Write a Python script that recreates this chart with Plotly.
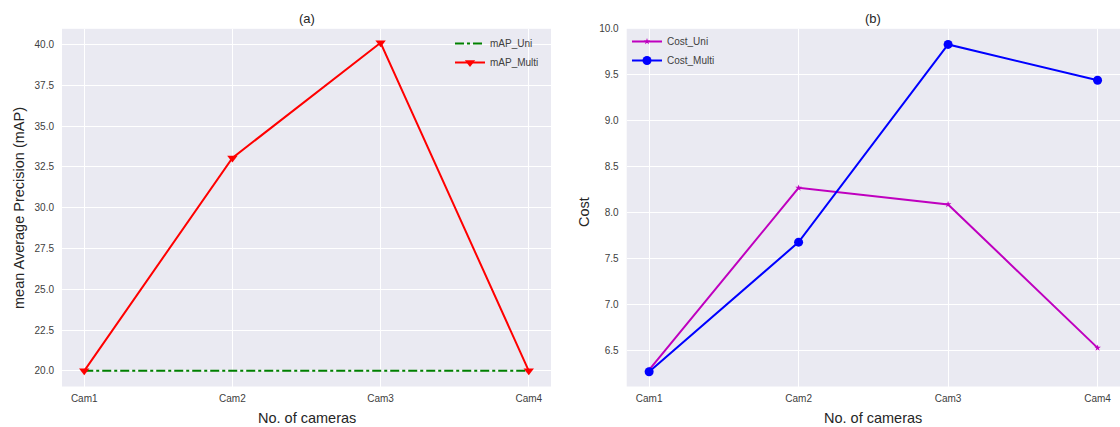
import plotly.graph_objects as go

# Camera setups along the x axis
cameras = ["Cam1", "Cam2", "Cam3", "Cam4"]

# (a) mean Average Precision
map_uni = [20.0, 20.0, 20.0, 20.0]
map_multi = [20.0, 33.05, 40.1, 20.0]

# (b) Cost
cost_uni = [6.29, 8.27, 8.09, 6.53]
cost_multi = [6.27, 7.68, 9.83, 9.44]

W, H = 1120, 427
BG = "#EAEAF2"
TICK = "#404040"
FONT = "Liberation Sans, Arial, sans-serif"

fig = go.Figure()

fig.add_trace(go.Scatter(
    x=cameras, y=map_uni, name="mAP_Uni", mode="lines",
    line=dict(color="#008000", width=2, dash="dashdot"),
    xaxis="x", yaxis="y", legend="legend"))
fig.add_trace(go.Scatter(
    x=cameras, y=map_multi, name="mAP_Multi", mode="lines+markers",
    line=dict(color="#FF0000", width=2),
    marker=dict(symbol="triangle-down", size=9, color="#FF0000"),
    xaxis="x", yaxis="y", legend="legend"))

fig.add_trace(go.Scatter(
    x=cameras, y=cost_uni, name="Cost_Uni", mode="lines+markers",
    line=dict(color="#BF00BF", width=2),
    marker=dict(symbol="star", size=5, color="#BF00BF"),
    xaxis="x2", yaxis="y2", legend="legend2"))
fig.add_trace(go.Scatter(
    x=cameras, y=cost_multi, name="Cost_Multi", mode="lines+markers",
    line=dict(color="#0000FF", width=2),
    marker=dict(symbol="circle", size=9, color="#0000FF"),
    xaxis="x2", yaxis="y2", legend="legend2"))

ydom = [1 - 386.5 / H, 1 - 28.8 / H]
xd1 = [62 / W, 551 / W]
xd2 = [626.7 / W, 1.0]

axis_common = dict(
    showgrid=True, gridcolor="white", gridwidth=1, zeroline=False,
    showline=False, ticks="", automargin=False,
    tickfont=dict(size=10, color=TICK, family=FONT),
)

fig.update_layout(
    width=W, height=H,
    margin=dict(l=0, r=0, t=0, b=0, pad=0, autoexpand=False),
    paper_bgcolor="white", plot_bgcolor=BG,
    font=dict(family=FONT, color="#262626"),
    xaxis=dict(domain=xd1, type="category", range=[-0.15, 3.15], anchor="y",
               ticklabelstandoff=4, **axis_common),
    yaxis=dict(domain=ydom, range=[19.04, 40.96], tickvals=[20, 22.5, 25, 27.5, 30, 32.5, 35, 37.5, 40],
               tickformat=".1f", anchor="x", ticklabelstandoff=7, **axis_common),
    xaxis2=dict(domain=xd2, type="category", range=[-0.15, 3.15], anchor="y2",
                ticklabelstandoff=4, **axis_common),
    yaxis2=dict(domain=ydom, range=[6.11, 10.0], tickvals=[6.5, 7.0, 7.5, 8.0, 8.5, 9.0, 9.5, 10.0],
                tickformat=".1f", anchor="x2", ticklabelstandoff=7, **axis_common),
    legend=dict(x=450 / W, y=1 - 29 / H, xanchor="left", yanchor="top",
                bgcolor="rgba(0,0,0,0)", font=dict(size=10, color=TICK, family=FONT),
                tracegroupgap=0, itemwidth=30),
    legend2=dict(x=627 / W, y=1 - 27 / H, xanchor="left", yanchor="top",
                 bgcolor="rgba(0,0,0,0)", font=dict(size=10, color=TICK, family=FONT),
                 tracegroupgap=0, itemwidth=30),
    showlegend=True,
)

title_font = dict(size=13, color="#262626", family=FONT)
label_font = dict(size=14.5, color="#262626", family=FONT)
center = dict(xref="paper", yref="paper", showarrow=False, xanchor="center", yanchor="middle")

ann = []
# subplot titles
ann.append(dict(text="(a)", x=306.5 / W, y=1 - 18 / H, font=title_font, **center))
ann.append(dict(text="(b)", x=873 / W, y=1 - 18 / H, font=title_font, **center))
# x axis titles
for cx in (306.5, 873):
    ann.append(dict(text="No. of cameras", x=cx / W, y=1 - 418 / H, font=label_font, **center))
# y axis titles
ann.append(dict(text="mean Average Precision (mAP)", x=19 / W, y=1 - 208 / H,
                textangle=-90, font=label_font, **center))
ann.append(dict(text="Cost", x=584 / W, y=1 - 212 / H,
                textangle=-90, font=label_font, **center))
fig.update_layout(annotations=ann)

fig.write_html("out.html")
